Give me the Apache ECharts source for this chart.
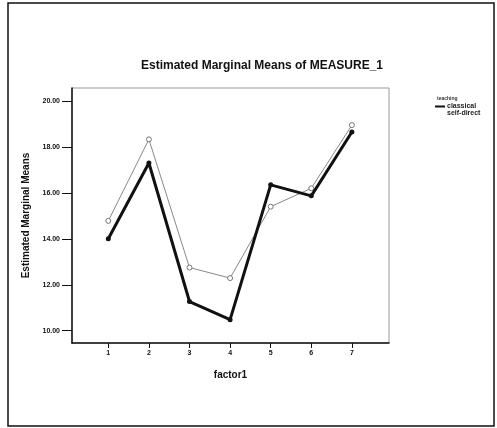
<!DOCTYPE html>
<html><head><meta charset="utf-8">
<script src="https://cdn.jsdelivr.net/npm/echarts@6/dist/echarts.min.js"></script>
<style>html,body{margin:0;padding:0;background:#fff}#c{width:497px;height:428px}</style>
</head><body><div id="c"></div>
<script>
const factorLevels = [1, 2, 3, 4, 5, 6, 7];
const classical = [14.0, 17.3, 11.27, 10.48, 16.35, 15.87, 18.65];
const selfDirect = [14.78, 18.33, 12.75, 12.29, 15.4, 16.2, 18.95];
const yTicks = [10, 12, 14, 16, 18, 20];
const seriesNames = ['classical', 'self-direct'];

const F = 'Liberation Sans, Arial, Helvetica, sans-serif';
const chart = echarts.init(document.getElementById('c'));
chart.setOption({
  animation: false,
  backgroundColor: '#fff',
  title: [
    { text: 'Estimated Marginal Means of MEASURE_1', left: 257, top: 55, textAlign: 'center',
      textStyle: { fontFamily: F, fontSize: 12, fontWeight: 'bold', color: '#111' } },
    { text: 'teaching', left: 432, top: 91,
      textStyle: { fontFamily: F, fontSize: 5, fontWeight: 'bold', color: '#333' } }
  ],
  legend: {
    orient: 'vertical', left: 430, top: 98, itemGap: 0, itemWidth: 10, itemHeight: 2,
    textStyle: { fontFamily: F, fontSize: 7, fontWeight: 'bold', color: '#222', padding: [0,0,0,-3] },
    data: [
      { name: seriesNames[0], icon: 'rect', itemStyle: { color: '#111' } },
      { name: seriesNames[1], icon: 'rect', itemStyle: { opacity: 0, borderWidth: 0 }, lineStyle: { opacity: 0 } }
    ]
  },
  graphic: [
    { type: 'rect', shape: { x: 8, y: 3, width: 486, height: 423 },
      style: { fill: null, stroke: '#111', lineWidth: 1.5 }, silent: true }
  ],
  grid: { left: 72, top: 88, width: 317, height: 255, show: true, borderColor: '#999', borderWidth: 1 },
  xAxis: {
    type: 'value', min: 0.106, max: 7.914,
    name: 'factor1', nameLocation: 'middle', nameGap: 27,
    nameTextStyle: { fontFamily: F, fontSize: 10, fontWeight: 'bold', color: '#111' },
    axisLine: { lineStyle: { color: '#111', width: 1.5 } },
    axisTick: { show: true, length: 5, customValues: factorLevels, lineStyle: { color: '#111' } },
    axisLabel: { customValues: factorLevels, margin: 7, fontFamily: F, fontSize: 7, fontWeight: 'bold', color: '#111' },
    splitLine: { show: false }
  },
  yAxis: {
    type: 'value', min: 9.465, max: 20.565,
    name: 'Estimated Marginal Means', nameLocation: 'middle', nameGap: 36,
    nameTextStyle: { fontFamily: F, fontSize: 10, fontWeight: 'bold', color: '#111' },
    axisLine: { show: true, lineStyle: { color: '#111', width: 1.5 } },
    axisTick: { show: true, length: 10, customValues: yTicks, lineStyle: { color: '#111' } },
    axisLabel: { customValues: yTicks, margin: 12, fontFamily: F, fontSize: 7, fontWeight: 'bold', color: '#111',
      formatter: v => v.toFixed(2) },
    splitLine: { show: false }
  },
  series: [
    { name: seriesNames[0], type: 'line', data: factorLevels.map((x, i) => [x, classical[i]]),
      symbol: 'circle', symbolSize: 5, itemStyle: { color: '#111' },
      lineStyle: { color: '#111', width: 3 }, z: 3 },
    { name: seriesNames[1], type: 'line', data: factorLevels.map((x, i) => [x, selfDirect[i]]),
      symbol: 'circle', symbolSize: 5, itemStyle: { color: '#fff', borderColor: '#777', borderWidth: 1 },
      lineStyle: { color: '#888', width: 1 }, z: 2 }
  ]
});
</script></body></html>
